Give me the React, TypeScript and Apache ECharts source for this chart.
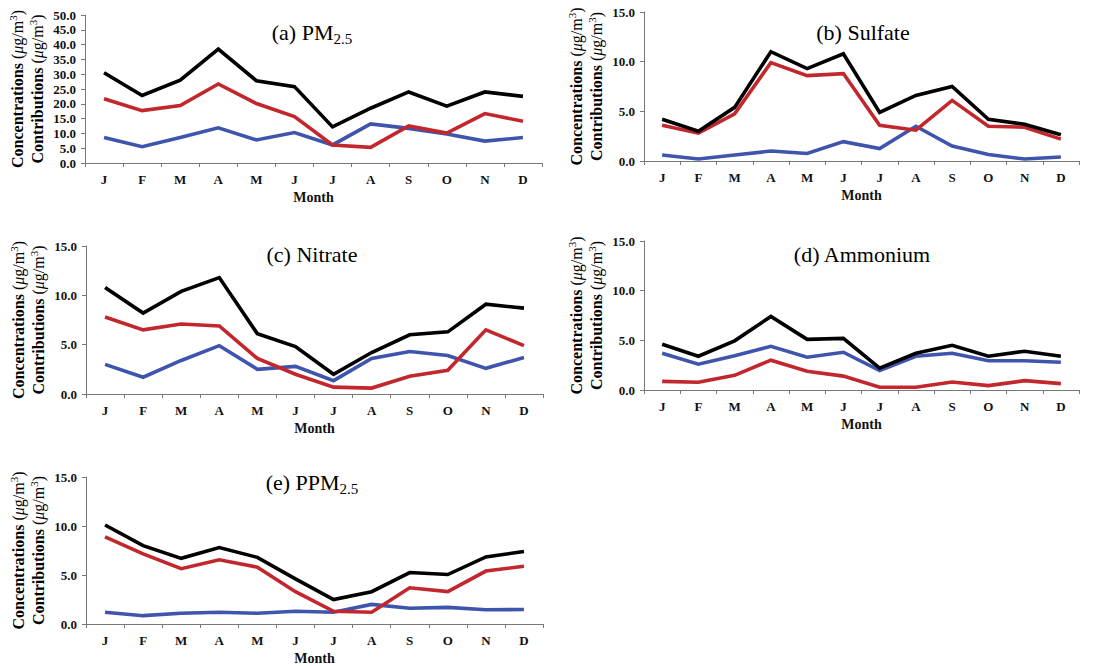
import React, { useEffect, useRef } from "react";
import * as echarts from "echarts";

// Month initials along every x axis
const months = ["J", "F", "M", "A", "M", "J", "J", "A", "S", "O", "N", "D"];

// (a) PM2.5
const pmBlack = [30.5, 22.8, 28.0, 38.5, 27.8, 25.8, 12.2, 18.5, 24.0, 19.2, 24.0, 22.5];
const pmRed = [21.7, 17.7, 19.4, 26.7, 20.1, 15.7, 6.1, 5.3, 12.5, 10.1, 16.7, 14.1];
const pmBlue = [8.6, 5.5, 8.6, 11.9, 7.8, 10.3, 6.1, 13.2, 11.7, 9.8, 7.4, 8.6];

// (b) Sulfate
const so4Black = [4.2, 3.0, 5.4, 11.0, 9.3, 10.8, 4.9, 6.6, 7.5, 4.2, 3.7, 2.65];
const so4Red = [3.6, 2.8, 4.75, 9.9, 8.6, 8.8, 3.6, 3.1, 6.1, 3.5, 3.4, 2.2];
const so4Blue = [0.6, 0.2, 0.6, 1.0, 0.75, 1.95, 1.25, 3.5, 1.5, 0.65, 0.2, 0.4];

// (c) Nitrate
const no3Black = [10.8, 8.2, 10.4, 11.8, 6.1, 4.8, 2.0, 4.2, 6.0, 6.3, 9.1, 8.7];
const no3Red = [7.8, 6.5, 7.1, 6.9, 3.6, 2.0, 0.7, 0.6, 1.8, 2.4, 6.5, 4.9];
const no3Blue = [3.0, 1.7, 3.4, 4.9, 2.5, 2.8, 1.35, 3.6, 4.3, 3.9, 2.6, 3.7];

// (d) Ammonium
const nh4Black = [4.6, 3.4, 4.95, 7.4, 5.1, 5.2, 2.2, 3.7, 4.5, 3.4, 3.9, 3.4];
const nh4Red = [0.87, 0.78, 1.48, 3.0, 1.88, 1.4, 0.27, 0.27, 0.8, 0.44, 0.94, 0.64];
const nh4Blue = [3.7, 2.6, 3.45, 4.4, 3.3, 3.8, 1.95, 3.4, 3.7, 2.95, 2.95, 2.8];

// (e) PPM2.5
const ppmBlack = [10.1, 8.0, 6.7, 7.8, 6.8, 4.6, 2.5, 3.3, 5.25, 5.05, 6.85, 7.4];
const ppmRed = [8.9, 7.15, 5.65, 6.55, 5.8, 3.3, 1.3, 1.2, 3.7, 3.3, 5.4, 5.9];
const ppmBlue = [1.2, 0.85, 1.1, 1.2, 1.1, 1.3, 1.2, 2.0, 1.6, 1.7, 1.45, 1.48];

const COLOR_BLACK = "#000000";
const COLOR_RED = "#c1272d";
const COLOR_BLUE = "#3f55ad";
const AXIS_COLOR = "#777777";
const SERIF = "'Liberation Serif', 'DejaVu Serif', serif";

interface Panel {
  title: string;
  max: number;
  grid: { left: number; top: number; width: number; height: number };
  titlePos: [number, number];
  black: number[];
  red: number[];
  blue: number[];
}

const panels: Panel[] = [
  {
    title: "{n|(a) PM}{s|2.5}",
    max: 50,
    grid: { left: 85, top: 15, width: 457, height: 148 },
    titlePos: [312, 32],
    black: pmBlack,
    red: pmRed,
    blue: pmBlue,
  },
  {
    title: "{n|(b) Sulfate}",
    max: 15,
    grid: { left: 644, top: 12, width: 435, height: 149 },
    titlePos: [863, 32],
    black: so4Black,
    red: so4Red,
    blue: so4Blue,
  },
  {
    title: "{n|(c) Nitrate}",
    max: 15,
    grid: { left: 86, top: 246, width: 457, height: 148 },
    titlePos: [312, 254],
    black: no3Black,
    red: no3Red,
    blue: no3Blue,
  },
  {
    title: "{n|(d) Ammonium}",
    max: 15,
    grid: { left: 644, top: 241, width: 435, height: 149 },
    titlePos: [862, 254],
    black: nh4Black,
    red: nh4Red,
    blue: nh4Blue,
  },
  {
    title: "{n|(e) PPM}{s|2.5}",
    max: 15,
    grid: { left: 86, top: 477, width: 457, height: 148 },
    titlePos: [312, 482],
    black: ppmBlack,
    red: ppmRed,
    blue: ppmBlue,
  },
];

const yNameText =
  "{b|Concentrations }{r|(}{i|\u03bc}{r|g/m}{p|3}{r|)}\n{b|Contributions }{r|(}{i|\u03bc}{r|g/m}{p|3}{r|)}";

const yNameRich = {
  b: { fontFamily: SERIF, fontWeight: "bold", fontSize: 16, lineHeight: 20, color: "#000" },
  r: { fontFamily: SERIF, fontSize: 16, lineHeight: 20, color: "#000" },
  i: { fontFamily: SERIF, fontStyle: "italic", fontSize: 16, lineHeight: 20, color: "#000" },
  p: { fontFamily: SERIF, fontSize: 11, lineHeight: 15, verticalAlign: "top", color: "#000" },
};

const titleRich = {
  n: { fontFamily: SERIF, fontSize: 22, lineHeight: 28, fill: "#000", color: "#000" },
  s: { fontFamily: SERIF, fontSize: 15, lineHeight: 16, verticalAlign: "bottom", fill: "#000", color: "#000" },
};

function buildOption() {
  const grid = panels.map((p) => ({ ...p.grid }));

  const xAxis = panels.map((_, i) => ({
    type: "category",
    gridIndex: i,
    data: months,
    boundaryGap: true,
    axisLine: { lineStyle: { color: AXIS_COLOR, width: 1 } },
    axisTick: { show: true, length: 4, lineStyle: { color: AXIS_COLOR } },
    axisLabel: {
      interval: 0,
      margin: 10,
      color: "#111",
      fontFamily: SERIF,
      fontWeight: "bold",
      fontSize: 13,
    },
    name: "Month",
    nameLocation: "middle",
    nameGap: 27,
    nameTextStyle: { color: "#111", fontFamily: SERIF, fontWeight: "bold", fontSize: 14 },
    splitLine: { show: false },
  }));

  const yAxis = panels.map((p, i) => ({
    type: "value",
    gridIndex: i,
    min: 0,
    max: p.max,
    interval: 5,
    axisLine: { show: true, lineStyle: { color: AXIS_COLOR, width: 1 } },
    axisTick: { show: true, length: 4, lineStyle: { color: AXIS_COLOR } },
    axisLabel: {
      margin: 9,
      color: "#111",
      fontFamily: SERIF,
      fontWeight: "bold",
      fontSize: 13,
      formatter: (v: number) => v.toFixed(1),
    },
    splitLine: { show: false },
    name: yNameText,
    nameLocation: "middle",
    nameRotate: 90,
    nameGap: 38,
    nameTextStyle: { rich: yNameRich },
  }));

  const series: any[] = [];
  panels.forEach((p, i) => {
    const lines: [number[], string][] = [
      [p.blue, COLOR_BLUE],
      [p.red, COLOR_RED],
      [p.black, COLOR_BLACK],
    ];
    lines.forEach(([data, color]) => {
      series.push({
        type: "line",
        xAxisIndex: i,
        yAxisIndex: i,
        data,
        symbol: "none",
        lineStyle: { color, width: 3.6, join: "miter" },
        itemStyle: { color },
        z: 3,
      });
    });
  });

  const graphic = panels.map((p) => ({
    type: "text",
    x: p.titlePos[0],
    y: p.titlePos[1],
    style: {
      text: p.title,
      rich: titleRich,
      align: "center",
      verticalAlign: "middle",
      fill: "#000",
    },
  }));

  return {
    animation: false,
    backgroundColor: "#ffffff",
    grid,
    xAxis,
    yAxis,
    series,
    graphic,
  };
}

export default function App() {
  const ref = useRef<HTMLDivElement>(null);

  useEffect(() => {
    if (!ref.current) return;
    const chart = echarts.init(ref.current, undefined, { renderer: "svg" });
    chart.setOption(buildOption() as any);
    return () => chart.dispose();
  }, []);

  return (
    <div
      ref={ref}
      style={{ position: "fixed", left: 0, top: 0, width: 1109, height: 666, background: "#fff" }}
    />
  );
}
